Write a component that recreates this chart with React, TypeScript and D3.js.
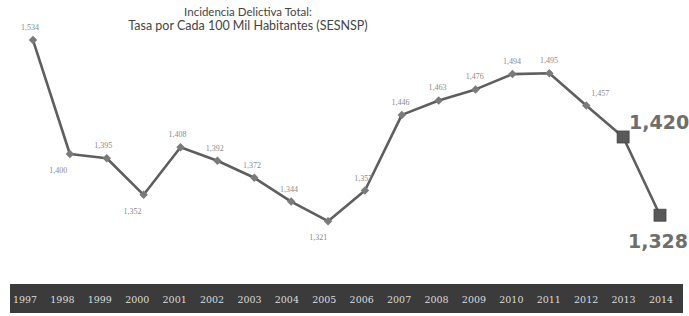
import React from 'react'
import * as d3 from 'd3'

const years = ['1997', '1998', '1999', '2000', '2001', '2002', '2003', '2004', '2005', '2006', '2007', '2008', '2009', '2010', '2011', '2012', '2013', '2014']
const rates = [1534, 1400, 1395, 1352, 1408, 1392, 1372, 1344, 1321, 1357, 1446, 1463, 1476, 1494, 1495, 1457, 1420, 1328]
// where the small value label sits relative to its marker
const labelSide = ['above', 'below', 'above', 'below', 'above', 'above', 'above', 'above', 'below', 'above', 'above', 'above', 'above', 'above', 'above', 'above', 'big', 'big']
const titleLines = ['Incidencia Delictiva Total:', 'Tasa por Cada 100 Mil Habitantes (SESNSP)']

const width = 689
const height = 316

const App = () => {
  const fmt = d3.format(',')

  const x = d3.scalePoint<string>().domain(years).range([33, 660])
  const xLab = d3.scalePoint<string>().domain(years).range([25, 661])
  const y = d3.scaleLinear().domain([1300, 1540]).range([239, 35])

  const line = d3.line<number>()
    .x((d, i) => x(years[i]) as number)
    .y((d) => y(d))

  const bandTop = 284
  const bandH = 29

  return (
    <svg width={width} height={height} style={{ position: 'absolute', left: 0, top: 0, background: '#fff' }}>
      {titleLines.map((t, i) => (
        <text key={t} x={248} y={16 + i * 14} textAnchor="middle" fontFamily="Lato, 'Open Sans', sans-serif"
          fontSize={i === 0 ? 11.5 : 12.5} fill="#444">{t}</text>
      ))}

      <path d={line(rates) || ''} fill="none" stroke="#5e5e5e" strokeWidth={2.6} strokeLinejoin="round" />

      {rates.map((v, i) => {
        const cx = x(years[i]) as number
        const cy = y(v)
        if (labelSide[i] === 'big') {
          return <rect key={i} x={cx - 6} y={cy - 6} width={12} height={12} fill="#595959" stroke="#444" strokeWidth={0.8} />
        }
        return <rect key={i} x={cx - 3} y={cy - 3} width={6} height={6} fill="#7a7a7a" transform={`rotate(45 ${cx} ${cy})`} />
      })}

      {rates.map((v, i) => {
        const cx = xLab(years[i]) as number
        const px = x(years[i]) as number
        const cy = y(v)
        const side = labelSide[i]
        if (side === 'big') {
          const above = i === years.length - 2
          return (
            <text key={i} x={above ? px + 36 : px - 2} y={above ? cy - 8 : cy + 33} textAnchor="middle"
              fontFamily="'DejaVu Sans', Verdana, sans-serif" fontWeight="bold" fontSize={19} fill="#6e6e6e">{fmt(v)}</text>
          )
        }
        const lx = i === 0 ? px - 3 : i === 15 ? px + 14 : (cx + px) / 2 + (side === 'below' ? -8 : 0)
        const ly = side === 'below' ? cy + 19 : cy - 10
        return (
          <text key={i} x={lx} y={ly} textAnchor="middle" fontFamily="'Liberation Serif', serif" fontSize={8} fill="#8a8a8a">{fmt(v)}</text>
        )
      })}

      <rect x={10} y={bandTop} width={673} height={bandH} fill="#3b3b3b" />
      {years.map((yr) => (
        <text key={yr} x={xLab(yr)} y={bandTop + 19} textAnchor="middle" fontFamily="'DejaVu Serif', serif"
          fontSize={9.5} fill="#dcdcdc">{yr}</text>
      ))}
    </svg>
  )
}

export default App
